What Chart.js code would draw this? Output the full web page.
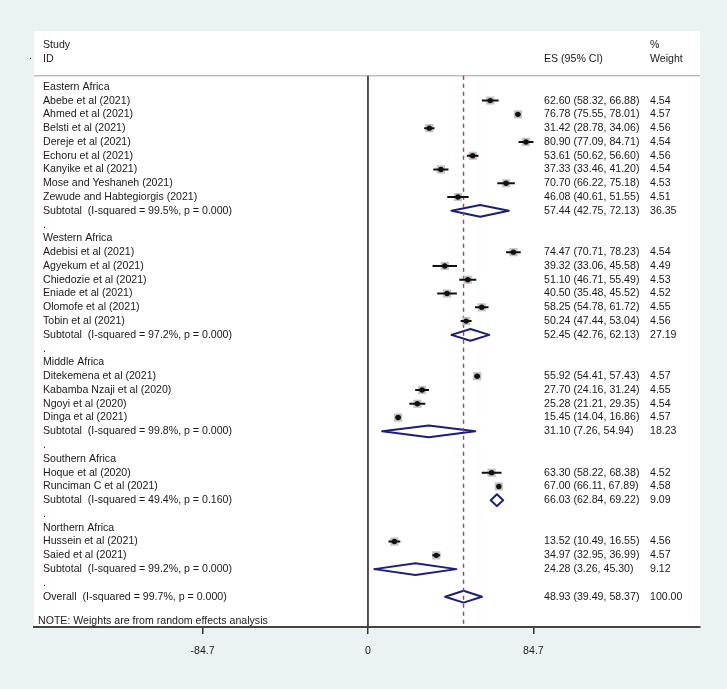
<!DOCTYPE html>
<html>
<head>
<meta charset="utf-8">
<script src="https://cdn.jsdelivr.net/npm/chart.js@4"></script>
<style>
  body { margin: 0; background: #eaf2f3; }
  #wrap { width: 727px; height: 689px; }
</style>
</head>
<body>
<div id="wrap"><canvas id="forestChart"></canvas></div>
<script>
// rows from top to bottom (row index = position on the y scale)
const rowLabels = [
    'Eastern Africa', 'Abebe et al (2021)', 'Ahmed et al (2021)', 'Belsti et al (2021)',
    'Dereje et al (2021)', 'Echoru et al (2021)', 'Kanyike et al (2021)', 'Mose and Yeshaneh (2021)',
    'Zewude and Habtegiorgis (2021)', 'Subtotal  (I-squared = 99.5%, p = 0.000)', '.',
    'Western Africa', 'Adebisi et al (2021)', 'Agyekum et al (2021)', 'Chiedozie et al (2021)',
    'Eniade et al (2021)', 'Olomofe et al (2021)', 'Tobin et al (2021)',
    'Subtotal  (I-squared = 97.2%, p = 0.000)', '.',
    'Middle Africa', 'Ditekemena et al (2021)', 'Kabamba Nzaji et al (2020)', 'Ngoyi et al (2020)',
    'Dinga et al (2021)', 'Subtotal  (I-squared = 99.8%, p = 0.000)', '.',
    'Southern Africa', 'Hoque et al (2020)', 'Runciman C et al (2021)',
    'Subtotal  (I-squared = 49.4%, p = 0.160)', '.',
    'Northern Africa', 'Hussein et al (2021)', 'Saied et al (2021)',
    'Subtotal  (I-squared = 99.2%, p = 0.000)', '.',
    'Overall  (I-squared = 99.7%, p = 0.000)'
];
// h = group heading, s = study, t = subtotal, g = gap, o = overall
const rowKinds = ['h','s','s','s','s','s','s','s','s','t','g',
                  'h','s','s','s','s','s','s','t','g',
                  'h','s','s','s','s','t','g',
                  'h','s','s','t','g',
                  'h','s','s','t','g',
                  'o'];
const es = [null, 62.60, 76.78, 31.42, 80.90, 53.61, 37.33, 70.70, 46.08, 57.44, null,
            null, 74.47, 39.32, 51.10, 40.50, 58.25, 50.24, 52.45, null,
            null, 55.92, 27.70, 25.28, 15.45, 31.10, null,
            null, 63.30, 67.00, 66.03, null,
            null, 13.52, 34.97, 24.28, null,
            48.93];
const ciLow = [null, 58.32, 75.55, 28.78, 77.09, 50.62, 33.46, 66.22, 40.61, 42.75, null,
               null, 70.71, 33.06, 46.71, 35.48, 54.78, 47.44, 42.76, null,
               null, 54.41, 24.16, 21.21, 14.04, 7.26, null,
               null, 58.22, 66.11, 62.84, null,
               null, 10.49, 32.95, 3.26, null,
               39.49];
const ciHigh = [null, 66.88, 78.01, 34.06, 84.71, 56.60, 41.20, 75.18, 51.55, 72.13, null,
                null, 78.23, 45.58, 55.49, 45.52, 61.72, 53.04, 62.13, null,
                null, 57.43, 31.24, 29.35, 16.86, 54.94, null,
                null, 68.38, 67.89, 69.22, null,
                null, 16.55, 36.99, 45.30, null,
                58.37];
const weights = [null, 4.54, 4.57, 4.56, 4.54, 4.56, 4.54, 4.53, 4.51, 36.35, null,
                 null, 4.54, 4.49, 4.53, 4.52, 4.55, 4.56, 27.19, null,
                 null, 4.57, 4.55, 4.54, 4.57, 18.23, null,
                 null, 4.52, 4.58, 9.09, null,
                 null, 4.56, 4.57, 9.12, null,
                 100.00];
const xTickValues = [-84.7, 0, 84.7];
const overallEs = 48.93;

const fontFamily = '"Liberation Sans", Arial, sans-serif';
const textSize = 10.6;

// build datasets from the arrays
const boxPts = [], dotPts = [], ciPts = [], diamondPts = [];
rowKinds.forEach((k, i) => {
    if (k === 's') {
        boxPts.push({ x: es[i], y: i, w: weights[i] });
        dotPts.push({ x: es[i], y: i });
        ciPts.push({ x: ciLow[i], y: i }, { x: ciHigh[i], y: i }, { x: ciHigh[i], y: null });
    } else if (k === 't' || k === 'o') {
        const h = 0.43;
        diamondPts.push({ x: ciLow[i], y: i }, { x: es[i], y: i - h }, { x: ciHigh[i], y: i },
                        { x: es[i], y: i + h }, { x: ciLow[i], y: i }, { x: ciLow[i], y: null });
    }
});

const yTop = -0.8, yBottom = 39.2;

const panelPlugin = {
    id: 'panel',
    beforeDraw(chart) {
        const { ctx, chartArea } = chart;
        ctx.save();
        ctx.fillStyle = '#eaf2f3';
        ctx.fillRect(0, 0, chart.width, chart.height);
        ctx.fillStyle = '#ffffff';
        ctx.fillRect(chartArea.left, chartArea.top, chartArea.right - chartArea.left, chartArea.bottom - chartArea.top);
        // line under the header
        const yLine = chart.scales.y.getPixelForValue(yTop);
        ctx.strokeStyle = '#a0a0a0';
        ctx.lineWidth = 1;
        ctx.beginPath();
        ctx.moveTo(chartArea.left, yLine);
        ctx.lineTo(chartArea.right, yLine);
        ctx.stroke();
        ctx.restore();
    },
    afterDatasetsDraw(chart) {
        const { ctx, scales } = chart;
        const y = scales.y;
        ctx.save();
        ctx.font = textSize + 'px ' + fontFamily;
        ctx.fillStyle = '#1a1a1a';
        ctx.textBaseline = 'middle';
        ctx.textAlign = 'left';
        const xLabel = 43, xEs = 544, xWt = 650;
        ctx.fillText('Study', xLabel, y.getPixelForValue(-3));
        ctx.fillText('ID', xLabel, y.getPixelForValue(-2));
        ctx.fillText('ES (95% CI)', xEs, y.getPixelForValue(-2));
        ctx.fillText('%', xWt, y.getPixelForValue(-3));
        ctx.fillText('Weight', xWt, y.getPixelForValue(-2));
        ctx.fillText('.', 29, y.getPixelForValue(-2.2));
        rowLabels.forEach((lab, i) => {
            const py = y.getPixelForValue(i);
            ctx.fillText(lab, xLabel, py);
            if (es[i] !== null) {
                ctx.fillText(es[i].toFixed(2) + ' (' + ciLow[i].toFixed(2) + ', ' + ciHigh[i].toFixed(2) + ')', xEs, py);
                ctx.fillText(weights[i].toFixed(2), xWt, py);
            }
        });
        ctx.fillText('NOTE: Weights are from random effects analysis', 38, y.getPixelForValue(38.75));
        ctx.restore();
    }
};

// datasets listed top layer first (Chart.js draws the last one first)
new Chart(document.getElementById('forestChart'), {
    type: 'scatter',
    data: {
        datasets: [
            {
                label: 'points',
                data: dotPts,
                pointStyle: 'circle', backgroundColor: '#111111', borderWidth: 0, pointRadius: 2.7
            },
            {
                label: 'ci',
                data: ciPts,
                showLine: true, spanGaps: false, borderColor: '#111111', borderWidth: 2, pointRadius: 0
            },
            {
                label: 'boxes',
                data: boxPts,
                pointStyle: 'rect',
                backgroundColor: '#c4c4c4',
                borderWidth: 0,
                pointRadius: ctx => 5.8 * Math.sqrt((ctx.raw ? ctx.raw.w : 4.5) / 4.55)
            },
            {
                label: 'overall',
                data: [{ x: overallEs, y: yTop }, { x: overallEs, y: yBottom }],
                showLine: true, borderColor: '#b03a4a', borderWidth: 1.4, borderDash: [4, 4], pointRadius: 0
            },
            {
                label: 'diamonds',
                data: diamondPts,
                showLine: true, spanGaps: false, borderColor: '#1c1f7a', borderWidth: 2,
                borderJoinStyle: 'round', borderCapStyle: 'round', pointRadius: 0
            },
            {
                label: 'zero',
                data: [{ x: 0, y: yTop }, { x: 0, y: yBottom }],
                showLine: true, borderColor: '#2a2a2a', borderWidth: 1.6, pointRadius: 0
            }
        ]
    },
    options: {
        responsive: true,
        maintainAspectRatio: false,
        animation: false,
        layout: { padding: { left: 34, right: 27, top: 31, bottom: 0 } },
        plugins: { legend: { display: false }, tooltip: { enabled: false } },
        scales: {
            x: {
                type: 'linear',
                min: -171,
                max: 170,
                afterBuildTicks: s => { s.ticks = xTickValues.map(v => ({ value: v })); },
                afterFit: s => { s.height = 62; },
                grid: { drawOnChartArea: false, tickLength: 7, color: '#333333', lineWidth: 1.5 },
                border: { display: true, color: '#444444', width: 2 },
                ticks: {
                    callback: v => String(v),
                    color: '#222222',
                    padding: 11,
                    maxRotation: 0,
                    autoSkip: false,
                    font: { family: fontFamily, size: 10.6 }
                }
            },
            y: {
                type: 'linear',
                reverse: true,
                min: -4.05,
                max: 39.2,
                display: false
            }
        }
    },
    plugins: [panelPlugin]
});
</script>
</body>
</html>
